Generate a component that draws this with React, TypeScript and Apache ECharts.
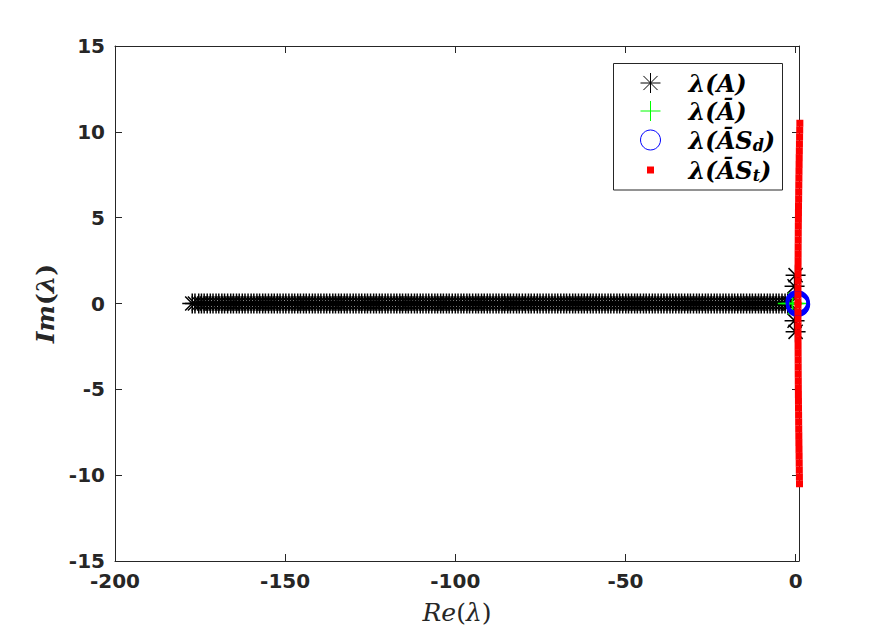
import React, { useEffect, useRef } from 'react';
import * as echarts from 'echarts';

// ---- tick labels ----
const xTicks = [-200, -150, -100, -50, 0];
const yTicks = [-15, -10, -5, 0, 5, 10, 15];

// ---- series names & legend labels ----
const seriesNames = ['A', 'Abar', 'AbarSd', 'AbarSt'];
const legendLabels: Record<string, string> = {
  A: '{m|λ(A)}',
  Abar: '{m|λ(Ā)}',
  AbarSd: '{m|λ(ĀS}{s|d}{m|)}',
  AbarSt: '{m|λ(ĀS}{s|t}{m|)}',
};

// ---- λ(A): real eigenvalues (Im = 0), far part ----
const realEigReFar = [
  -177.3, -176.5, -175.4, -174.6, -173.8, -172.9, -172.0, -171.2, -170.3, -169.5,
  -168.6, -167.8, -166.9, -166.0, -165.2, -164.3, -163.5, -162.6, -161.8, -160.9,
  -160.0, -159.2, -158.3, -157.5, -156.6, -155.8, -154.9, -154.0, -153.2, -152.3,
  -151.5, -150.6, -149.8, -148.9, -148.0, -147.2, -146.3, -145.5, -144.6, -143.8,
  -142.9, -142.0, -141.2, -140.3, -139.5, -138.6, -137.8, -136.9, -136.0, -135.2,
  -134.3, -133.5, -132.6, -131.8, -130.9, -130.0, -129.2, -128.3, -127.5, -126.6,
  -125.8, -124.9, -124.0, -123.2, -122.3, -121.5, -120.6, -119.8, -118.9, -118.0,
  -117.2, -116.3, -115.5, -114.6, -113.8, -112.9, -112.0, -111.2, -110.3, -109.5,
  -108.6, -107.8, -106.9, -106.0, -105.2, -104.3, -103.5, -102.6, -101.8, -100.9,
  -100.0, -99.2, -98.3, -97.5, -96.6, -95.8, -94.9, -94.0, -93.2, -92.3,
  -91.5, -90.6, -89.8, -88.9, -88.0, -87.2, -86.3, -85.5, -84.6, -83.8,
  -82.9, -82.0, -81.2, -80.3,
];
// ---- λ(A): real eigenvalues (Im = 0), near part ----
const realEigReNear = [
  -79.4, -78.5, -77.7, -76.8, -75.9, -75.1, -74.2, -73.3, -72.5, -71.6,
  -70.7, -69.9, -69.0, -68.1, -67.3, -66.4, -65.5, -64.7, -63.8, -62.9,
  -62.1, -61.2, -60.3, -59.5, -58.6, -57.7, -56.9, -56.0, -55.1, -54.3,
  -53.4, -52.5, -51.7, -50.8, -49.9, -49.1, -48.2, -47.3, -46.5, -45.6,
  -44.7, -43.9, -43.0, -42.1, -41.3, -40.4, -39.5, -38.7, -37.8, -36.9,
  -36.1, -35.2, -34.3, -33.5, -32.6, -31.7, -30.9, -30.0, -29.1, -28.3,
  -27.4, -26.5, -25.7, -24.8, -23.9, -23.1, -22.2, -21.3, -20.5, -19.6,
  -18.7, -17.9, -17.0, -16.1, -15.3, -14.4, -13.5, -12.7, -11.8, -10.9,
  -10.1, -9.2, -8.3, -7.5, -6.6, -5.7, -4.9, -4.0, -3.1, -2.3, -1.6,
];
// ---- λ(A): complex eigenvalues near the origin ----
const complexEigRe = [0.0, 0.0, -0.3, -0.3];
const complexEigIm = [1.65, -1.65, 1.0, -1.0];

// ---- λ(Ā) ----
const abarRe = [-2.0, -0.9, 0.2];
const abarIm = [0, 0, 0];

// ---- λ(ĀS_d) ----
const sdRe = [0.45, 0.6, 0.75, 0.85];
const sdIm = [0.1, -0.1, 0.05, -0.05];

// ---- λ(ĀS_t) ----
const stIm = [
  10.5, 10.1, 9.7, 9.3, 8.9, 8.5, 8.1, 7.7, 7.3, 6.9, 6.5, 6.1, 5.7, 5.3, 4.9, 4.5,
  4.1, 3.7, 3.3, 2.9, 2.5, 2.1, 1.7, 1.3, 0.9, 0.5, 0.1,
  -0.1, -0.5, -0.9, -1.3, -1.7, -2.1, -2.5, -2.9, -3.3, -3.7, -4.1, -4.5, -4.9,
  -5.3, -5.7, -6.1, -6.5, -6.9, -7.3, -7.7, -8.1, -8.5, -8.9, -9.3, -9.7, -10.1, -10.5,
];
const stRe = [
  1.25, 1.21, 1.17, 1.13, 1.1, 1.06, 1.03, 1.0, 0.97, 0.94, 0.91, 0.89, 0.86, 0.84, 0.82, 0.8,
  0.78, 0.77, 0.75, 0.74, 0.73, 0.72, 0.71, 0.71, 0.7, 0.7, 0.7,
  0.7, 0.7, 0.7, 0.71, 0.71, 0.72, 0.73, 0.74, 0.75, 0.76, 0.77, 0.79, 0.8,
  0.82, 0.84, 0.86, 0.88, 0.9, 0.92, 0.95, 0.97, 1.0, 1.03, 1.06, 1.09, 1.12, 1.15,
];

const AXIS = '#262626';

export default function App() {
  const ref = useRef<HTMLDivElement>(null);

  useEffect(() => {
    const chart = echarts.init(ref.current!, null, { renderer: 'svg' });

    const star = 'path://M0,-10L0,10M-10,0L10,0M-7.07,-7.07L7.07,7.07M-7.07,7.07L7.07,-7.07';
    const plus = 'path://M0,-10L0,10M-10,0L10,0';
    const smallSquare = 'path://M-10,-10M10,10M-3.5,-3.5L3.5,-3.5L3.5,3.5L-3.5,3.5Z';

    const labelStyle = {
      color: AXIS,
      fontFamily: 'DejaVu Sans',
      fontWeight: 'bold' as const,
      fontSize: 20,
    };
    const lineStyle = { color: AXIS, width: 1 };

    const xBase = {
      type: 'value' as const,
      min: -200,
      max: 1,
      splitLine: { show: false },
      axisLine: { show: true, onZero: false, lineStyle },
      axisTick: { show: true, inside: true, length: 7, customValues: xTicks, lineStyle },
    };
    const yBase = {
      type: 'value' as const,
      min: -15,
      max: 15,
      interval: 5,
      splitLine: { show: false },
      axisLine: { show: true, onZero: false, lineStyle },
      axisTick: { show: true, inside: true, length: 7, customValues: yTicks, lineStyle },
    };

    const serif = 'DejaVu Serif';
    const transparent = 'rgba(0,0,0,0)';

    const starStyle = { color: transparent, borderColor: '#000000', borderWidth: 1.5, opacity: 1 };
    const plusStyle = { color: transparent, borderColor: '#00ff00', borderWidth: 1.5, opacity: 1 };
    const circleStyle = { color: transparent, borderColor: '#0000ff', borderWidth: 2.5, opacity: 1 };
    const squareStyle = { color: '#ff0000', opacity: 1 };

    chart.setOption({
      animation: false,
      backgroundColor: '#ffffff',
      grid: { left: 115, top: 46, right: 85, bottom: 70, containLabel: false, outerBoundsMode: 'none' },
      xAxis: [
        {
          ...xBase,
          position: 'bottom',
          axisLabel: { ...labelStyle, margin: 10, customValues: xTicks },
          name: '{i|Re}{u|(}{i|λ}{u|)}',
          nameLocation: 'middle',
          nameGap: 39,
          nameTextStyle: {
            color: AXIS,
            fontFamily: serif,
            fontSize: 25,
            rich: {
              i: { fontFamily: serif, fontStyle: 'italic', fontSize: 25, color: AXIS },
              u: { fontFamily: serif, fontSize: 25, color: AXIS },
            },
          },
        },
        { ...xBase, position: 'top', axisLabel: { show: false } },
      ],
      yAxis: [
        {
          ...yBase,
          position: 'left',
          axisLabel: { ...labelStyle, margin: 10, customValues: yTicks },
          name: '{i|Im}{u|(}{i|λ}{u|)}',
          nameLocation: 'middle',
          nameGap: 57,
          nameTextStyle: {
            color: AXIS,
            fontFamily: serif,
            fontSize: 25,
            fontWeight: 'bold',
            rich: {
              i: { fontFamily: serif, fontStyle: 'italic', fontWeight: 'bold', fontSize: 25, color: AXIS },
              u: { fontFamily: serif, fontWeight: 'bold', fontSize: 25, color: AXIS },
            },
          },
        },
        { ...yBase, position: 'right', axisLabel: { show: false } },
      ],
      legend: {
        orient: 'vertical',
        left: 640,
        top: 71,
        padding: 0,
        itemWidth: 66,
        itemHeight: 20,
        itemGap: 4,
        selectedMode: false,
        data: [
          { name: seriesNames[0], itemStyle: { ...starStyle, borderWidth: 1 } },
          { name: seriesNames[1], itemStyle: { ...plusStyle, borderWidth: 1 } },
          { name: seriesNames[2], itemStyle: { ...circleStyle, borderWidth: 1 } },
          { name: seriesNames[3], icon: smallSquare, itemStyle: { ...squareStyle, borderWidth: 0 } },
        ],
        formatter: (n: string) => legendLabels[n],
        textStyle: {
          color: '#000',
          rich: {
            m: { fontFamily: serif, fontStyle: 'italic', fontWeight: 'bold', fontSize: 24, lineHeight: 26, color: '#000' },
            s: { fontFamily: serif, fontStyle: 'italic', fontWeight: 'bold', fontSize: 16, lineHeight: 12, padding: [10, 0, 0, 0], color: '#000' },
          },
        },
      },
      graphic: [
        {
          type: 'rect',
          z: 3,
          shape: { x: 613.5, y: 63.5, width: 169, height: 126.5 },
          style: { fill: '#ffffff', stroke: AXIS, lineWidth: 1 },
        },
      ],
      series: [
        {
          name: seriesNames[0],
          type: 'scatter',
          clip: false,
          symbol: star,
          symbolSize: 20,
          itemStyle: starStyle,
          data: [
            ...realEigReFar.map((r) => [r, 0]),
            ...realEigReNear.map((r) => [r, 0]),
            ...complexEigRe.map((r, i) => [r, complexEigIm[i]]),
          ],
        },
        {
          name: seriesNames[1],
          type: 'scatter',
          clip: false,
          symbol: plus,
          symbolSize: 22,
          itemStyle: plusStyle,
          data: abarRe.map((r, i) => [r, abarIm[i]]),
        },
        {
          name: seriesNames[2],
          type: 'scatter',
          clip: false,
          symbol: 'circle',
          symbolSize: 21,
          itemStyle: circleStyle,
          data: sdRe.map((r, i) => [r, sdIm[i]]),
        },
        {
          name: seriesNames[3],
          type: 'scatter',
          clip: false,
          symbol: 'rect',
          symbolSize: 7,
          itemStyle: squareStyle,
          data: stRe.map((r, i) => [r, stIm[i]]),
        },
      ],
    });

    return () => chart.dispose();
  }, []);

  return (
    <div
      ref={ref}
      style={{ position: 'fixed', left: 0, top: 0, width: 884, height: 631, background: '#fff' }}
    />
  );
}
